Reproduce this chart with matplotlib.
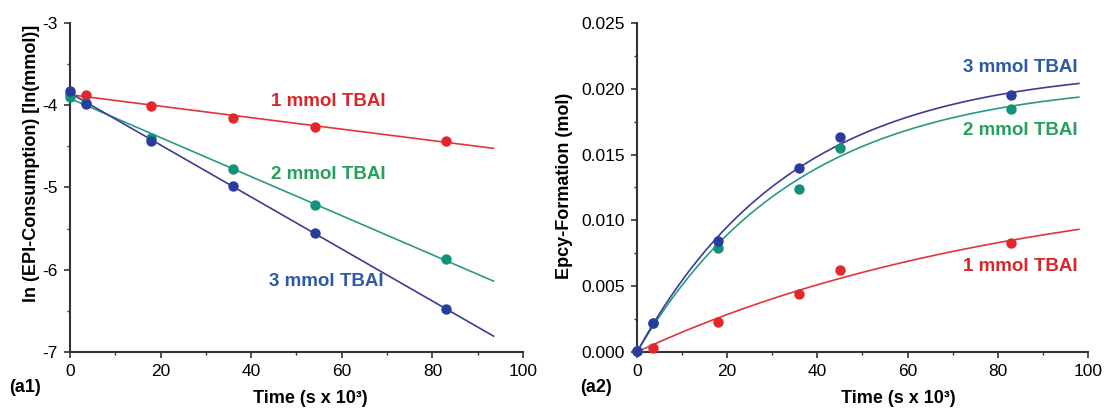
import numpy as np
import matplotlib
matplotlib.use("Agg")
import matplotlib.pyplot as plt
from matplotlib.ticker import MultipleLocator, FormatStrFormatter

plt.rcParams['font.family'] = ['Liberation Sans', 'DejaVu Sans']
plt.rcParams['axes.unicode_minus'] = False

# (a1) ln of EPI consumption vs time
t1 = [0, 3.6, 18, 36, 54, 83]
ln_1mmol = [-3.86, -3.88, -4.01, -4.15, -4.26, -4.43]
ln_2mmol = [-3.90, -3.97, -4.40, -4.78, -5.21, -5.87]
ln_3mmol = [-3.83, -3.98, -4.44, -4.98, -5.55, -6.48]

# (a2) Epcy formation vs time
t2 = [0, 3.6, 18, 36, 45, 83]
ep_1mmol = [0.0001, 0.0003, 0.0023, 0.0044, 0.0062, 0.0083]
ep_2mmol = [0.0001, 0.0022, 0.0079, 0.0124, 0.0155, 0.0185]
ep_3mmol = [0.0001, 0.0022, 0.0084, 0.0140, 0.0163, 0.0195]

# first-order fit parameters: y = A * (1 - exp(-k t))
fit_A = [0.01366, 0.02067, 0.02168]
fit_k = [0.0117, 0.0282, 0.0289]

labels = ['1 mmol TBAI', '2 mmol TBAI', '3 mmol TBAI']
pt_colors = ['#e3282c', '#13917a', '#2a3c9e']
line_colors = ['#e0363a', '#2a9a88', '#3c3c98']
text_colors = ['#d9262b', '#27a05c', '#2d5aa8']

fig = plt.figure(figsize=(11.05, 4.09), dpi=100)
ax1 = fig.add_axes([0.0633, 0.1394, 0.410, 0.8044])
ax2 = fig.add_axes([0.5765, 0.1394, 0.408, 0.8044])

# left panel: linear fits
for y, lc in zip([ln_1mmol, ln_2mmol, ln_3mmol], line_colors):
    m, b = np.polyfit(t1, y, 1)
    xx = np.array([0, 93.5])
    ax1.plot(xx, m * xx + b, color=lc, lw=1.2, zorder=2)
for y, pc in zip([ln_1mmol, ln_2mmol, ln_3mmol], pt_colors):
    ax1.plot(t1, y, 'o', color=pc, ms=7.5, mec='none', clip_on=False, zorder=3)

ax1.text(57, -3.95, labels[0], color=text_colors[0], fontsize=13.5, fontweight='bold', ha='center', va='center')
ax1.text(57, -4.84, labels[1], color=text_colors[1], fontsize=13.5, fontweight='bold', ha='center', va='center')
ax1.text(56.5, -6.14, labels[2], color=text_colors[2], fontsize=13.5, fontweight='bold', ha='center', va='center')

ax1.set_xlim(0, 100)
ax1.set_ylim(-7, -3)
ax1.xaxis.set_major_locator(MultipleLocator(20))
ax1.xaxis.set_minor_locator(MultipleLocator(10))
ax1.yaxis.set_major_locator(MultipleLocator(1))
ax1.yaxis.set_minor_locator(MultipleLocator(0.5))
ax1.set_xlabel('Time (s x 10³)', fontsize=13, fontweight='bold')
ax1.set_ylabel('ln (EPI-Consumption) [ln(mmol)]', fontsize=13, fontweight='bold')
ax1.xaxis.set_label_coords(0.53, -0.115)
ax1.yaxis.set_label_coords(-0.066, 0.574)

# right panel: exponential fits
tt = np.linspace(0, 98, 200)
for A, k, lc in zip(fit_A, fit_k, line_colors):
    ax2.plot(tt, A * (1 - np.exp(-k * tt)), color=lc, lw=1.2, zorder=2)
for y, pc in zip([ep_1mmol, ep_2mmol, ep_3mmol], pt_colors):
    ax2.plot(t2, y, 'o', color=pc, ms=7.5, mec='none', clip_on=False, zorder=3)

ax2.text(85, 0.0216, labels[2], color=text_colors[2], fontsize=13.5, fontweight='bold', ha='center', va='center')
ax2.text(85, 0.0168, labels[1], color=text_colors[1], fontsize=13.5, fontweight='bold', ha='center', va='center')
ax2.text(85, 0.0065, labels[0], color=text_colors[0], fontsize=13.5, fontweight='bold', ha='center', va='center')

ax2.set_xlim(0, 100)
ax2.set_ylim(0, 0.025)
ax2.xaxis.set_major_locator(MultipleLocator(20))
ax2.xaxis.set_minor_locator(MultipleLocator(10))
ax2.yaxis.set_major_locator(MultipleLocator(0.005))
ax2.yaxis.set_minor_locator(MultipleLocator(0.0025))
ax2.yaxis.set_major_formatter(FormatStrFormatter('%.3f'))
ax2.set_xlabel('Time (s x 10³)', fontsize=13, fontweight='bold')
ax2.set_ylabel('Epcy-Formation (mol)', fontsize=13, fontweight='bold')
ax2.xaxis.set_label_coords(0.58, -0.115)
ax2.yaxis.set_label_coords(-0.142, 0.505)

for ax in (ax1, ax2):
    ax.spines['top'].set_visible(False)
    ax.spines['right'].set_visible(False)
    for s in ('left', 'bottom'):
        ax.spines[s].set_linewidth(1.5)
        ax.spines[s].set_color('#333333')
    ax.tick_params(which='major', direction='out', length=4, width=1.2, labelsize=12.5, color='#333333', pad=5)
    ax.tick_params(which='minor', direction='out', length=2.5, width=1.0, color='#333333')

fig.text(25 / 1105, 1 - 388 / 409, '(a1)', fontsize=13, fontweight='bold', ha='center', va='center')
fig.text(596 / 1105, 1 - 388 / 409, '(a2)', fontsize=13, fontweight='bold', ha='center', va='center')

fig.savefig('out.png', dpi=100)
